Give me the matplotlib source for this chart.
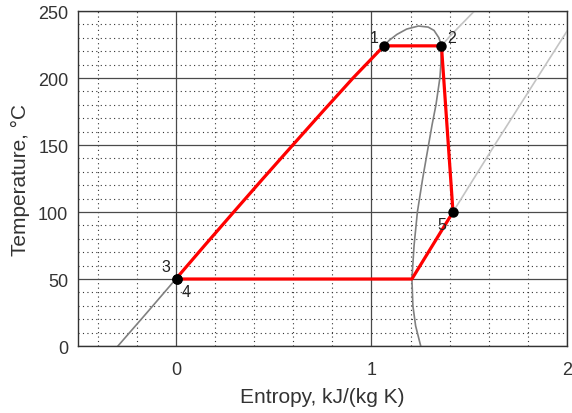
import matplotlib.pyplot as plt
from matplotlib.ticker import MultipleLocator

plt.rcParams['font.family'] = ['Liberation Sans', 'DejaVu Sans']

# saturated liquid line (entropy, temperature)
liq_s = [-0.296, -0.147, 0.0, 0.147, 0.296, 0.446, 0.598, 0.751, 0.906, 1.064]
liq_T = [0, 25, 50, 75, 100, 125, 150, 175, 200, 224]

# top of the dome, from point 1 over the critical region to point 2
dome_s = [1.064, 1.09, 1.13, 1.18, 1.24, 1.29, 1.32, 1.345, 1.358]
dome_T = [224, 228, 232.5, 236.5, 238.8, 238, 235.5, 230, 224]

# saturated vapour line
vap_s = [1.358, 1.355, 1.350, 1.330, 1.310, 1.292, 1.262, 1.235, 1.218, 1.207, 1.212, 1.226, 1.252]
vap_T = [224, 210, 200, 180, 165, 150, 125, 100, 75, 50, 30, 15, 0]

# isobars in the superheated region
hp_s = [1.358, 1.40, 1.53]
hp_T = [224, 231, 250.5]
lp_s = [1.207, 1.417, 1.63, 1.843, 2.0]
lp_T = [50, 100, 150, 199, 235]

# cycle state points
pt_s = [1.064, 1.358, 0.005, 0.005, 1.417]
pt_T = [224, 224, 50, 50, 100]
pt_names = ["1", "2", "3", "4", "5"]
pt_offsets = [(-7, 6), (7, 6), (-8, 9), (7, -9), (-8, -9)]

# cycle path: 3 -> 1 along liquid line, 1 -> 2, 2 -> 5, 5 -> saturated vapour, -> 4
cyc_s = liq_s[2:] + [1.358, 1.417, 1.207, 0.005]
cyc_T = liq_T[2:] + [224, 100, 50, 50]

fig = plt.figure(figsize=(5.72, 4.14), dpi=100)
ax = fig.add_axes([0.1364, 0.1618, 0.8549, 0.8092])

ax.plot(liq_s, liq_T, color="#808080", lw=1.2)
ax.plot(dome_s, dome_T, color="#808080", lw=1.2)
ax.plot(vap_s, vap_T, color="#808080", lw=1.2)
ax.plot(hp_s, hp_T, color="#c4c4c4", lw=1.2)
ax.plot(lp_s, lp_T, color="#c4c4c4", lw=1.2)

ax.plot(cyc_s, cyc_T, color="red", lw=2.3, solid_joinstyle="round")
ax.plot(pt_s, pt_T, "o", color="black", ms=6.5, zorder=5)

for s, T, name, (dx, dy) in zip(pt_s, pt_T, pt_names, pt_offsets):
    ax.annotate(name, (s, T), xytext=(dx, dy), textcoords="offset points",
                ha="center", va="center", fontsize=11.5, color="#222222")

ax.set_xlim(-0.5, 2)
ax.set_ylim(0, 250)
ax.xaxis.set_major_locator(MultipleLocator(1))
ax.xaxis.set_minor_locator(MultipleLocator(0.2))
ax.yaxis.set_major_locator(MultipleLocator(50))
ax.yaxis.set_minor_locator(MultipleLocator(10))
ax.grid(which="major", color="#4a4a4a", lw=0.9)
ax.grid(which="minor", color="#333333", lw=0.8, ls=(0, (1, 3)))
ax.set_axisbelow(True)
ax.tick_params(which="both", length=0, labelsize=13, labelcolor="#333333")
ax.tick_params(axis="x", pad=11)
ax.tick_params(axis="y", pad=7)
for sp in ax.spines.values():
    sp.set_color("#333333")
    sp.set_linewidth(1)

ax.set_xlabel("Entropy, kJ/(kg K)", fontsize=15, color="#333333", labelpad=6)
ax.set_ylabel("Temperature, °C", fontsize=15, color="#333333", labelpad=6)

fig.savefig("out.png", dpi=100)
